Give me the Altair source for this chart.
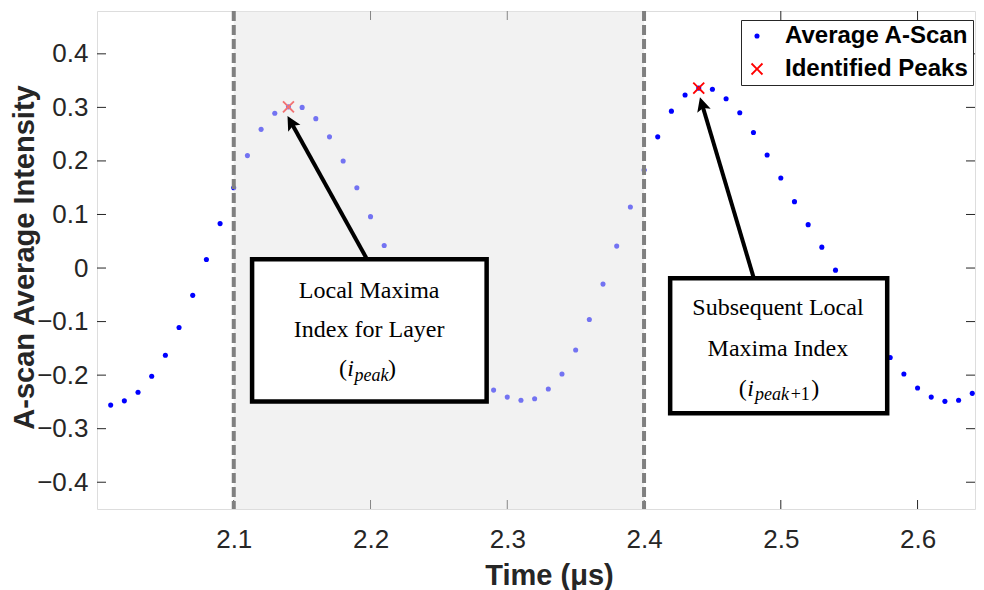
import math
import altair as alt
import pandas as pd

# ---------------- data ----------------
time_us = [2.01, 2.02, 2.03, 2.04, 2.05, 2.06, 2.07, 2.08, 2.09, 2.10,
           2.11, 2.12, 2.13, 2.14, 2.15, 2.16, 2.17, 2.18, 2.19, 2.20,
           2.21, 2.22, 2.23, 2.24, 2.25, 2.26, 2.27, 2.28, 2.29, 2.30,
           2.31, 2.32, 2.33, 2.34, 2.35, 2.36, 2.37, 2.38, 2.39, 2.40,
           2.41, 2.42, 2.43, 2.44, 2.45, 2.46, 2.47, 2.48, 2.49, 2.50,
           2.51, 2.52, 2.53, 2.54, 2.55, 2.56, 2.57, 2.58, 2.59, 2.60,
           2.61, 2.62, 2.63, 2.64]
intensity = [-0.256, -0.248, -0.232, -0.202, -0.163, -0.111, -0.051, 0.016, 0.083, 0.150,
             0.210, 0.259, 0.289, 0.301, 0.300, 0.279, 0.245, 0.200, 0.150, 0.096,
             0.042, -0.010, -0.060, -0.105, -0.145, -0.178, -0.203, -0.219, -0.228, -0.241,
             -0.247, -0.244, -0.226, -0.198, -0.153, -0.096, -0.030, 0.041, 0.114, 0.183,
             0.245, 0.293, 0.323, 0.336, 0.334, 0.316, 0.290, 0.253, 0.211, 0.168,
             0.124, 0.081, 0.039, -0.004, -0.048, -0.092, -0.131, -0.167, -0.198, -0.224,
             -0.241, -0.249, -0.247, -0.234]
peak_times = [2.14, 2.44]
peak_values = [0.301, 0.336]
series_names = ["Average A-Scan", "Identified Peaks"]

x_ticks = [2.1, 2.2, 2.3, 2.4, 2.5, 2.6]
y_ticks = [-0.4, -0.3, -0.2, -0.1, 0.0, 0.1, 0.2, 0.3, 0.4]
x_domain = [2.0, 2.642]
y_domain = [-0.45, 0.48]

layer_window = [2.1, 2.4]          # shaded region / dashed lines

# annotation boxes (data coordinates)
box_t0 = [2.1134, 2.4191]
box_t1 = [2.2849, 2.5778]
box_v0 = [-0.2494, -0.2711]
box_v1 = [0.0162, -0.0192]

# annotation text lines
line_text = ["Local Maxima", "Index for Layer", "Subsequent Local", "Maxima Index"]
line_t = [2.1990, 2.1990, 2.4979, 2.4979]
line_v = [-0.0565, -0.1282, -0.0877, -0.1642]

# math labels (i_peak) and (i_peak+1), pieces left aligned
piece_text = ["(", "i", "peak", ")", "(", "i", "peak", "+1", ")"]
piece_style = ["reg", "ital", "sub_ital", "reg", "reg", "ital", "sub_ital", "sub_reg", "reg"]
piece_t = [2.1769, 2.1829, 2.1883, 2.2128, 2.4693, 2.4754, 2.4812, 2.5072, 2.5222]
piece_v = [-0.2024, -0.2024, -0.2108, -0.2024, -0.2388, -0.2388, -0.2463, -0.2463, -0.2388]

# arrows
arrow_tail_t = [2.1975, 2.4803]
arrow_tail_v = [0.0162, -0.0192]
arrow_tip_t = [2.1393, 2.4409]
arrow_tip_v = [0.2839, 0.3188]

# ---------------- layout ----------------
W, H = 878, 498
FONT = "Liberation Sans"
SERIF = "Liberation Serif"
AX = "#262626"

X_PATH = ("M0,0.24L0.88,1.12L1.12,0.88L0.24,0L1.12,-0.88L0.88,-1.12L0,-0.24"
          "L-0.88,-1.12L-1.12,-0.88L-0.24,0L-1.12,0.88L-0.88,1.12Z")
ARROW_PATH = "M0,0L0.5,1L0,0.8L-0.5,1Z"
HEAD = 14.0

xscale = alt.Scale(domain=x_domain, nice=False, zero=False)
yscale = alt.Scale(domain=y_domain, nice=False, zero=False)

xaxis = alt.Axis(values=x_ticks, format=".1f", grid=False, ticks=False, domain=False,
                 labelFont=FONT, labelFontSize=26, labelColor=AX, labelPadding=17,
                 labelFlush=False,
                 title="Time (μs)", titleFont=FONT, titleFontSize=29, titleFontWeight="bold",
                 titleColor=AX, titleX=452, titleY=75, titleBaseline="alphabetic",
                 titleAlign="center")
yaxis = alt.Axis(values=y_ticks, grid=False, ticks=False, domain=False,
                 labelExpr="datum.value == 0 ? '0' : format(datum.value, '.1f')",
                 labelFont=FONT, labelFontSize=26, labelColor=AX, labelPadding=9,
                 labelFlush=False,
                 title="A-scan Average Intensity", titleFont=FONT, titleFontSize=29,
                 titleFontWeight="bold", titleColor=AX, titleAngle=270,
                 titleX=-64, titleY=246, titleBaseline="alphabetic", titleAlign="center")


def X(f):
    return alt.X(f, type="quantitative", scale=xscale, axis=xaxis)


def Y(f):
    return alt.Y(f, type="quantitative", scale=yscale, axis=yaxis)


# ---------------- data frames ----------------
pts = pd.DataFrame({
    "t": time_us + peak_times,
    "v": intensity + peak_values,
    "series": [series_names[0]] * len(time_us) + [series_names[1]] * len(peak_times),
})
xt = pd.DataFrame({"t": x_ticks})
yt = pd.DataFrame({"v": y_ticks})
win = pd.DataFrame({"t0": [layer_window[0]], "t1": [layer_window[1]]})
win_lines = pd.DataFrame({"t": layer_window})
boxes = pd.DataFrame({"t0": box_t0, "t1": box_t1, "v0": box_v0, "v1": box_v1})
lines = pd.DataFrame({"t": line_t, "v": line_v, "text": line_text})
pieces = pd.DataFrame({"t": piece_t, "v": piece_v, "text": piece_text, "style": piece_style})

# arrow geometry (pixel direction from data through the scale factors)
sx = W / (x_domain[1] - x_domain[0])
sy = H / (y_domain[1] - y_domain[0])
rows = []
for t0, v0, t1, v1 in zip(arrow_tail_t, arrow_tail_v, arrow_tip_t, arrow_tip_v):
    dx = (t1 - t0) * sx
    dy = -(v1 - v0) * sy
    L = math.hypot(dx, dy)
    ux, uy = dx / L, dy / L
    back = HEAD * 0.7
    end_t = t1 - ux * back / sx
    end_v = v1 + uy * back / sy
    ang = math.degrees(math.atan2(dx, -dy)) % 360
    rows.append({"t": t0, "v": v0, "t2": end_t, "v2": end_v,
                 "tip_t": t1, "tip_v": v1, "ang": ang})
arrows = pd.DataFrame(rows)

# ---------------- layers ----------------
tick_left = alt.Chart(yt).mark_rule(color=AX, strokeWidth=1).encode(
    y=Y("v"), x=alt.value(0), x2=alt.value(9))
tick_right = alt.Chart(yt).mark_rule(color=AX, strokeWidth=1).encode(
    y=Y("v"), x=alt.value(W - 9), x2=alt.value(W))
tick_bottom = alt.Chart(xt).mark_rule(color=AX, strokeWidth=1).encode(
    x=X("t"), y=alt.value(H), y2=alt.value(H - 9))
tick_top = alt.Chart(xt).mark_rule(color=AX, strokeWidth=1).encode(
    x=X("t"), y=alt.value(0), y2=alt.value(9))

legend = alt.Legend(title=None, orient="none", legendX=644, legendY=9,
                    labelFont=FONT, labelFontWeight="bold", labelFontSize=24,
                    labelColor="black", labelLimit=400, labelOffset=16,
                    strokeColor=AX, fillColor="white", padding=4, rowPadding=9,
                    symbolOffset=0, symbolStrokeWidth=0)

points = alt.Chart(pts).mark_point(filled=True, opacity=1, strokeWidth=0).encode(
    x=X("t"), y=Y("v"),
    color=alt.Color("series:N", scale=alt.Scale(domain=series_names, range=["#0000ff", "#ff0000"]),
                    legend=legend),
    shape=alt.Shape("series:N", scale=alt.Scale(domain=series_names, range=["circle", X_PATH]),
                    legend=legend),
    size=alt.Size("series:N", scale=alt.Scale(domain=series_names, range=[26, 120]),
                  legend=legend),
)

shade = alt.Chart(win).mark_rect(fill="#e6e6e6", fillOpacity=0.5, strokeWidth=0).encode(
    x=X("t0"), x2="t1")

dashed = alt.Chart(win_lines).mark_rule(color="#808080", strokeWidth=4,
                                        strokeDash=[10, 4]).encode(x=X("t"))

box_marks = alt.Chart(boxes).mark_rect(fill="white", stroke="black", strokeWidth=4.5).encode(
    x=X("t0"), x2="t1", y=Y("v0"), y2="v1")

shafts = alt.Chart(arrows).mark_rule(color="black", strokeWidth=4).encode(
    x=X("t"), y=Y("v"), x2="t2", y2="v2")
heads = alt.Chart(arrows).mark_point(shape=ARROW_PATH, filled=True, color="black",
                                     opacity=1, strokeWidth=0,
                                     size=(2 * HEAD) ** 2).encode(
    x=X("tip_t"), y=Y("tip_v"), angle=alt.Angle("ang:Q", scale=None))

line_marks = alt.Chart(lines).mark_text(font=SERIF, fontSize=24, color="black",
                                        align="center", baseline="alphabetic").encode(
    x=X("t"), y=Y("v"), text="text:N")


def piece_layer(style, size, italic):
    d = pieces[pieces["style"] == style]
    return alt.Chart(d).mark_text(font=SERIF, fontSize=size, color="black",
                                  fontStyle="italic" if italic else "normal",
                                  align="left", baseline="alphabetic").encode(
        x=X("t"), y=Y("v"), text="text:N")


chart = alt.layer(
    tick_left, tick_right, tick_bottom, tick_top,
    points, shade, dashed, box_marks, shafts, heads, line_marks,
    piece_layer("reg", 24, False), piece_layer("ital", 24, True),
    piece_layer("sub_ital", 18, True), piece_layer("sub_reg", 18, False),
).properties(
    width=W, height=H,
    autosize=alt.AutoSizeParams(type="none"),
    padding={"left": 89, "top": 3, "right": 1, "bottom": 95},
).configure_view(stroke="#404040", strokeWidth=1).configure(background="white")

chart.save("out.html", embed_options={"renderer": "svg", "actions": False})
